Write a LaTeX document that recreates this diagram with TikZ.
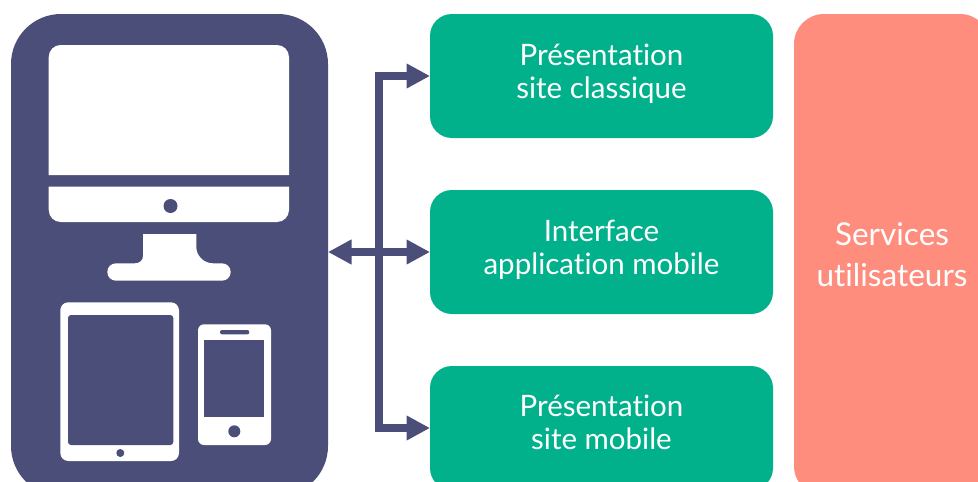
\documentclass[tikz,border=0pt]{standalone}
\usepackage{fontspec}
\setmainfont{Lato}[Ligatures=NoCommon]
\usetikzlibrary{arrows.meta}

\definecolor{navy}{HTML}{4A4E79}
\definecolor{vert}{HTML}{00B18C}
\definecolor{saumon}{HTML}{FF8D7E}

\tikzset{
  panel/.style={fill=navy, rounded corners=50pt, minimum width=317pt, minimum height=482pt, inner sep=0pt, outer sep=0pt},
  vuebox/.style={fill=vert, text=white, rounded corners=22pt, minimum width=343pt, minimum height=124pt, inner sep=0pt, outer sep=0pt, align=center, font=\fontsize{29.5}{33}\selectfont},
  servicebox/.style={fill=saumon, text=white, rounded corners=30pt, minimum width=196pt, minimum height=482pt, inner sep=0pt, outer sep=0pt, align=center, font=\fontsize{31.5}{41}\selectfont},
  link/.style={draw=navy, line width=8pt, -{Triangle[length=23.5pt,width=23.5pt]}},
  linkboth/.style={draw=navy, line width=8pt, {Triangle[length=23.5pt,width=23.5pt]}-{Triangle[length=23.5pt,width=23.5pt]}},
}

\begin{document}
\begin{tikzpicture}[x=1pt, y=-1pt]
  \clip (0,0) rectangle (978,482);
  \fill[white] (0,0) rectangle (978,482);

  \node[panel] (devices) at (169.5,255) {};
  \node[vuebox] (classique) at (601.5,76) {Présentation\\site classique\\[-24pt]};
  \node[vuebox] (appli) at (601.5,252) {Interface\\application mobile\\[-24pt]};
  \node[vuebox] (mobile) at (601.5,428) {Présentation\\site mobile\\[-21pt]};
  \node[servicebox] (services) at (892,255) {Services\\utilisateurs};

  \coordinate (trunk) at (379,252);
  \draw[linkboth] (appli.west -| devices.east) -- (appli.west);
  \draw[link] (trunk) |- (classique.west);
  \draw[link] (trunk) |- (mobile.west);

  % monitor
  \fill[white] (48.7,175) [rounded corners=12pt] -- (48.7,45) -- (289,45) [sharp corners] -- (289,175) -- cycle;
  \fill[white] (48.7,186.7) -- (289,186.7) [rounded corners=12pt] -- (289,222) -- (48.7,222) [sharp corners] -- cycle;
  \fill[navy] (170.5,206) circle (7);
  \fill[white] (143,234) -- (196.3,234) -- (196.3,247) .. controls (196.3,256) and (204,263.3) .. (213,263.3)
    -- (222,263.3) arc (-90:90:8.7) -- (116,280.7) arc (90:270:8.7) -- (135,263.3) .. controls (140,263.3) and (143,260) .. (143,256) -- cycle;

  % tablet
  \fill[white, rounded corners=8pt] (60.3,302.3) rectangle (179,461);
  \fill[navy, rounded corners=3pt] (68,315) rectangle (173.3,445);
  \fill[navy] (120.3,453) circle (4);

  % phone
  \fill[white, rounded corners=6pt] (198,324.3) rectangle (271,445);
  \fill[navy, rounded corners=2pt] (220,330) rectangle (249.3,334.3);
  \fill[navy] (204.3,340) rectangle (264.3,417.3);
  \fill[navy] (234.3,431.3) circle (6);
\end{tikzpicture}
\end{document}
